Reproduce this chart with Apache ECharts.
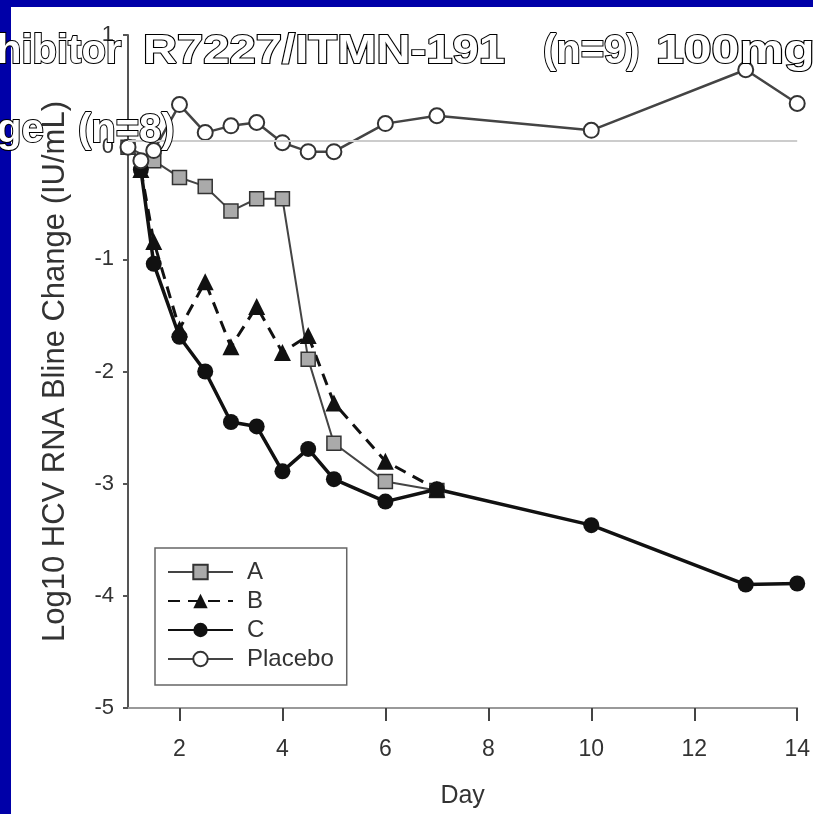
<!DOCTYPE html>
<html>
<head>
<meta charset="utf-8">
<script src="https://cdn.jsdelivr.net/npm/echarts@6/dist/echarts.min.js"></script>
<style>
  html, body { margin: 0; padding: 0; background: #fff; }
  #chart { width: 813px; height: 814px; }
</style>
</head>
<body>
<div id="chart"></div>
<script>
// values
const aDays = [1, 1.5, 2, 2.5, 3, 3.5, 4, 4.5, 5, 6, 7];
const aVals = [0, -0.12, -0.27, -0.35, -0.57, -0.46, -0.46, -1.89, -2.64, -2.98, -3.06];

const bDays = [1.25, 1.5, 2, 2.5, 3, 3.5, 4, 4.5, 5, 6, 7];
const bVals = [-0.2, -0.84, -1.62, -1.2, -1.78, -1.42, -1.83, -1.68, -2.28, -2.8, -3.05];

const cDays = [1.25, 1.5, 2, 2.5, 3, 3.5, 4, 4.5, 5, 6, 7, 10, 13, 14];
const cVals = [-0.2, -1.04, -1.69, -2.0, -2.45, -2.49, -2.89, -2.69, -2.96, -3.16, -3.05, -3.37, -3.9, -3.89];

const placeboDays = [1, 1.25, 1.5, 2, 2.5, 3, 3.5, 4, 4.5, 5, 6, 7, 10, 13, 14];
const placeboVals = [0, -0.12, -0.03, 0.38, 0.13, 0.19, 0.22, 0.04, -0.04, -0.04, 0.21, 0.28, 0.15, 0.69, 0.39];

const xTicks = [2, 4, 6, 8, 10, 12, 14];
const baseline = 0.06;

const pairs = (xs, ys) => xs.map((x, i) => [x, ys[i]]);

const chart = echarts.init(document.getElementById('chart'));

// white slide title with black outline/shadow, partly cut off by the crop
const titleText = (text, x, y, sx) => ({
    type: 'text',
    x: x,
    y: y,
    scaleX: sx || 1,
    z: 100,
    style: {
        text: text,
        font: 'bold 40px "Liberation Sans", Arial, sans-serif',
        fill: '#fff',
        stroke: '#000',
        lineWidth: 2,
        textShadowColor: '#000',
        textShadowOffsetX: 3,
        textShadowOffsetY: 3
    }
});

const font = '"Liberation Sans", Arial, sans-serif';

const option = {
    backgroundColor: '#fff',
    animation: false,
    grid: {
        left: 128,
        right: 8,
        top: 35,
        bottom: 106,
        containLabel: false
    },
    legend: {
        orient: 'vertical',
        left: 155,
        top: 548,
        itemWidth: 65,
        itemHeight: 18,
        itemGap: 5,
        padding: [12, 13, 14, 12],
        borderColor: '#666',
        borderWidth: 1.5,
        backgroundColor: '#fff',
        textStyle: {
            fontFamily: font,
            fontSize: 24,
            lineHeight: 24,
            color: '#333',
            padding: [0, 0, 0, 9]
        },
        data: ['A', 'B', 'C', 'Placebo']
    },
    xAxis: {
        type: 'value',
        min: 1,
        max: 14,
        name: 'Day',
        nameLocation: 'middle',
        nameGap: 76,
        nameTextStyle: { fontFamily: font, fontSize: 25, color: '#333' },
        axisLine: { onZero: false, lineStyle: { color: '#999', width: 2 } },
        axisTick: {
            customValues: xTicks,
            length: 13,
            lineStyle: { color: '#444', width: 2 }
        },
        axisLabel: {
            customValues: xTicks,
            margin: 30,
            fontFamily: font,
            fontSize: 23,
            color: '#333'
        },
        splitLine: { show: false }
    },
    yAxis: {
        type: 'value',
        min: -5,
        max: 1,
        interval: 1,
        name: 'Log10 HCV RNA Bline Change (IU/mL)',
        nameLocation: 'middle',
        nameGap: 57,
        nameTextStyle: { fontFamily: font, fontSize: 31, color: '#333' },
        axisLine: { show: true, onZero: false, lineStyle: { color: '#555', width: 2 } },
        axisTick: { show: true, length: 5, lineStyle: { color: '#555', width: 2 } },
        axisLabel: { margin: 14, fontFamily: font, fontSize: 22, color: '#333' },
        splitLine: { show: false }
    },
    series: [
        {
            name: 'A',
            type: 'line',
            data: pairs(aDays, aVals),
            symbol: 'rect',
            symbolSize: 14,
            lineStyle: { color: '#444', width: 2 },
            itemStyle: { color: '#aaa', borderColor: '#333', borderWidth: 1.5 },
            markLine: {
                silent: true,
                symbol: 'none',
                label: { show: false },
                lineStyle: { color: '#ccc', width: 2, type: 'solid' },
                data: [{ yAxis: baseline }]
            }
        },
        {
            name: 'B',
            type: 'line',
            data: pairs(bDays, bVals),
            symbol: 'triangle',
            symbolSize: 17,
            lineStyle: { color: '#111', width: 3, type: [12, 8] },
            itemStyle: { color: '#111', borderWidth: 0 }
        },
        {
            name: 'C',
            type: 'line',
            data: pairs(cDays, cVals),
            symbol: 'circle',
            symbolSize: 16,
            lineStyle: { color: '#111', width: 3.5 },
            itemStyle: { color: '#111', borderWidth: 0 }
        },
        {
            name: 'Placebo',
            type: 'line',
            data: pairs(placeboDays, placeboVals),
            symbol: 'circle',
            symbolSize: 15,
            lineStyle: { color: '#444', width: 2.5 },
            itemStyle: { color: '#fff', borderColor: '#333', borderWidth: 2 }
        }
    ],
    graphic: [
        { type: 'rect', x: 0, y: 0, z: 90, shape: { width: 813, height: 7 }, style: { fill: '#0000a8' } },
        { type: 'rect', x: 0, y: 0, z: 90, shape: { width: 11, height: 814 }, style: { fill: '#0000a8' } },
        titleText('hibitor', -3, 32),
        titleText('R7227/ITMN-191', 143, 32, 1.18),
        titleText('(n=9)', 543, 32),
        titleText('100mg', 656, 32, 1.25),
        titleText('ge', -3, 111),
        titleText('(n=8)', 78, 111)
    ]
};

chart.setOption(option);
</script>
</body>
</html>
